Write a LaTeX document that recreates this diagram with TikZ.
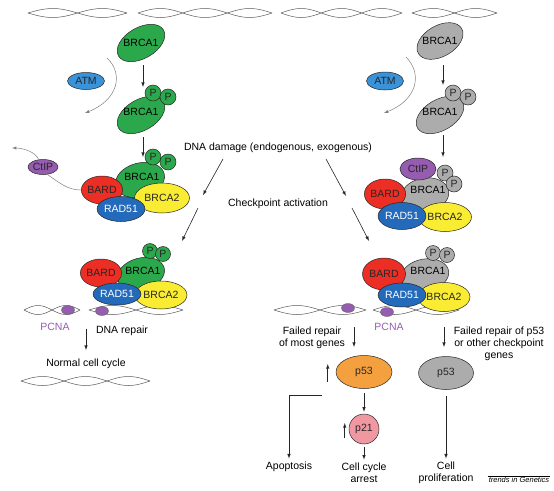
\documentclass[tikz,border=0pt]{standalone}
\usepackage{fontspec}
\setmainfont{Liberation Sans}
\usetikzlibrary{shapes.geometric}
\definecolor{brgreen}{RGB}{44,168,76}
\definecolor{brgray}{RGB}{172,172,172}
\definecolor{brred}{RGB}{236,46,36}
\definecolor{radblue}{RGB}{36,106,186}
\definecolor{atmblue}{RGB}{58,146,216}
\definecolor{bryellow}{RGB}{250,236,50}
\definecolor{pcnapurple}{RGB}{150,92,176}
\definecolor{p53orange}{RGB}{245,160,62}
\definecolor{p21pink}{RGB}{240,152,162}
% one stretch of double helix: from, to, height, loops
\newcommand{\dnahelix}[4]{%
  \draw[helix] plot[domain=#1:#2,samples=80,smooth] (\x,{#3+4.5*sin(((\x-#1)/(#2-#1))*180*#4)});
  \draw[helix] plot[domain=#1:#2,samples=80,smooth] (\x,{#3-4.5*sin(((\x-#1)/(#2-#1))*180*#4)});}
\begin{document}
\begin{tikzpicture}[x=1pt,y=-1pt,>=latex,font=\fontsize{10.5}{12}\selectfont]
  \tikzset{mol/.style={ellipse,draw=black!85,line width=0.5pt,inner sep=0pt,text=black!85},
    phos/.style={circle,draw=black!85,line width=0.5pt,inner sep=0pt,minimum size=16pt,text=black!85},
    helix/.style={draw=black!65,line width=0.5pt},
    link/.style={draw=black!50,line width=0.5pt},
    arr/.style={->,draw=black!85,line width=0.6pt},
    pcna/.style={ellipse,fill=pcnapurple,draw=black!60,line width=0.4pt,minimum width=13pt,minimum height=9pt,inner sep=0pt}}
  \useasboundingbox (0,0) rectangle (554,490);

  % DNA
  \dnahelix{28}{127}{13}{2}
  \dnahelix{138}{272}{13}{3}
  \dnahelix{281}{402}{13}{3}
  \dnahelix{412}{497}{13}{2}
  \dnahelix{24}{80}{310}{2}
  \dnahelix{89}{183}{310}{2}
  \dnahelix{274}{366}{310}{2}
  \dnahelix{373}{459}{310}{2}
  \dnahelix{21}{150}{381}{3}

  % left: BRCA1 activation
  \node[mol,fill=brgreen,minimum width=52pt,minimum height=31pt,rotate=30] (brL) at (141,43) {};
  \node (brLt) at (brL) {BRCA1};
  \node[mol,fill=atmblue,minimum width=37pt,minimum height=17pt] (atmL) at (86,81) {ATM};
  \coordinate (atmLa) at (107,58);
  \coordinate (atmLb) at (85,113);
  \draw[link,->] (atmLa) .. controls (124,74) and (118,100) .. (atmLb);
  \node[mol,fill=brgreen,minimum width=52pt,minimum height=31pt,rotate=30] (brpL) at (141,115) {};
  \node (brpLt) at (141,112) {BRCA1};
  \node[phos,fill=brgreen] (pL1) at (153,93) {P};
  \node[phos,fill=brgreen] (pL2) at (168,97) {P};
  \draw[arr] (brL.center) ++(2,22) -- ++(0,22);
  \draw[arr] (brpL.center) ++(2,22) -- ++(0,20);

  % left: repair complex
  \node[mol,fill=brgreen,minimum width=50pt,minimum height=34pt,rotate=15] (brcL) at (140,180) {};
  \node (brcLt) at (142,177) {BRCA1};
  \node[phos,fill=brgreen] (pcL1) at (153,157) {P};
  \node[phos,fill=brgreen] (pcL2) at (168,162) {P};
  \node[mol,fill=brred,minimum width=40pt,minimum height=28pt] (bardL) at (102,190) {BARD};
  \node[mol,fill=bryellow,minimum width=55pt,minimum height=30pt] (brca2L) at (162,198) {BRCA2};
  \node[mol,fill=radblue,text=white,minimum width=42pt,minimum height=25pt] (radL) at (121,209) {RAD51};
  \node[mol,fill=pcnapurple,minimum width=30pt,minimum height=15pt] (ctipL) at (43,167) {CtIP};
  \coordinate (ctipOut) at (12,148);
  \draw[link] (bardL.west) .. controls +(-14,0) and +(12,8) .. (ctipL.-60);
  \draw[link,->] (ctipL.120) .. controls +(-3,-8) and +(10,0) .. (ctipOut);

  % damage and checkpoint
  \node (dmg) at (278,148) {DNA damage (endogenous, exogenous)};
  \node (chk) at (278,204) {Checkpoint activation};
  \draw[arr] (dmg) ++(-55,11) -- ++(-20,36);
  \draw[arr] (chk) ++(-80,4) -- ++(-16,33);
  \draw[arr] (dmg) ++(48,11) -- ++(20,37);
  \draw[arr] (chk) ++(74,4) -- ++(17,33);

  % left: complex on DNA
  \node[mol,fill=brgreen,minimum width=48pt,minimum height=32pt,rotate=15] (brrL) at (141,274) {};
  \node (brrLt) at (143,271) {BRCA1};
  \node[phos,fill=brgreen,minimum size=15pt] (prL1) at (150,251) {P};
  \node[phos,fill=brgreen,minimum size=15pt] (prL2) at (163,254) {P};
  \node[mol,fill=brred,minimum width=41pt,minimum height=28pt] (bardrL) at (101,273) {BARD};
  \node[mol,fill=bryellow,minimum width=52pt,minimum height=28pt] (brca2rL) at (161,295) {BRCA2};
  \node[mol,fill=radblue,text=white,minimum width=42pt,minimum height=22pt] (radrL) at (117,294) {RAD51};
  \node[pcna] (pcnaL1) at (68,310) {};
  \node[pcna] (pcnaL2) at (102,311) {};
  \node[text=pcnapurple] (pcnaLt) at (55,327) {PCNA};
  \node (repair) at (122,331) {DNA repair};
  \node (normal) at (86,364) {Normal cell cycle};
  \draw[arr] (normal) ++(0,-35) -- ++(0,21);

  % right: BRCA1 activation
  \node[mol,fill=brgray,minimum width=50pt,minimum height=31pt,rotate=30] (brR) at (440,41) {};
  \node (brRt) at (brR) {BRCA1};
  \node[mol,fill=atmblue,minimum width=37pt,minimum height=18pt] (atmR) at (385,81) {ATM};
  \coordinate (atmRa) at (406,57);
  \coordinate (atmRb) at (384,113);
  \draw[link,->] (atmRa) .. controls (423,74) and (417,100) .. (atmRb);
  \node[mol,fill=brgray,minimum width=52pt,minimum height=31pt,rotate=30] (brpR) at (440,115) {};
  \node (brpRt) at (440,112) {BRCA1};
  \node[phos,fill=brgray] (pR1) at (453,93) {P};
  \node[phos,fill=brgray] (pR2) at (468,97) {P};
  \draw[arr] (brR.center) ++(3,24) -- ++(0,20);
  \draw[arr] (brpR.center) ++(3,20) -- ++(0,22);

  % right: repair complex
  \node[mol,fill=brgray,minimum width=48pt,minimum height=34pt,rotate=10] (brcR) at (425,195) {};
  \node (brcRt) at (428,190) {BRCA1};
  \node[phos,fill=brgray] (pcR1) at (445,173) {P};
  \node[phos,fill=brgray] (pcR2) at (454,184) {P};
  \node[mol,fill=pcnapurple,minimum width=36pt,minimum height=22pt] (ctipR) at (418,169) {CtIP};
  \node[mol,fill=brred,minimum width=41pt,minimum height=30pt] (bardR) at (385,194) {BARD};
  \node[mol,fill=bryellow,minimum width=53pt,minimum height=29pt] (brca2R) at (445,217) {BRCA2};
  \node[mol,fill=radblue,text=white,minimum width=43pt,minimum height=27pt] (radR) at (402,216) {RAD51};

  % right: complex on DNA
  \node[mol,fill=brgray,minimum width=48pt,minimum height=32pt,rotate=10] (brrR) at (425,275) {};
  \node (brrRt) at (428,271) {BRCA1};
  \node[phos,fill=brgray,minimum size=15pt] (prR1) at (433,253) {P};
  \node[phos,fill=brgray,minimum size=15pt] (prR2) at (447,255) {P};
  \node[mol,fill=brred,minimum width=43pt,minimum height=32pt] (bardrR) at (384,274) {BARD};
  \node[mol,fill=bryellow,minimum width=52pt,minimum height=29pt] (brca2rR) at (444,297) {BRCA2};
  \node[mol,fill=radblue,text=white,minimum width=43pt,minimum height=24pt] (radrR) at (402,295) {RAD51};
  \node[pcna] (pcnaR1) at (348,308) {};
  \node[pcna] (pcnaR2) at (387,312) {};
  \node[text=pcnapurple] (pcnaRt) at (389,327) {PCNA};

  % right: outcomes
  \node[align=center] (failA) at (312,338) {Failed repair\\of most genes};
  \node[align=center] (failB) at (499,344) {Failed repair of p53\\or other checkpoint\\genes};
  \draw[arr] (failA) ++(42,-11) -- ++(0,20);
  \draw[arr] (failB) ++(-55,-17) -- ++(0,20);
  \node[mol,fill=p53orange,minimum width=56pt,minimum height=33pt] (p53a) at (364,372) {p53};
  \node[mol,fill=brgray,minimum width=55pt,minimum height=33pt] (p53b) at (446,373) {p53};
  \node[mol,fill=p21pink,minimum width=30pt,minimum height=30pt] (p21) at (364,429) {p21};
  \node (apop) at (289,467) {Apoptosis};
  \node[align=center] (arrest) at (364,473) {Cell cycle\\arrest};
  \node[align=center] (prolif) at (446,473) {Cell\\proliferation};
  \draw[arr] (p53a) ++(-42,23) -| (apop);
  \draw[arr,shorten <=4pt,shorten >=2pt] (p53a) -- (p21);
  \draw[arr,shorten <=3pt] (p21) -- (arrest);
  \draw[arr,shorten <=6pt] (p53b) -- (prolif);
  \draw[arr] (p53a.west) ++(-8,10) -- ++(0,-18);
  \draw[arr] (p21.west) ++(-4,9) -- ++(0,-15);

  \node[font=\fontsize{7.5}{8}\selectfont\itshape,minimum width=59pt,inner sep=1pt] (tig) at (519,480) {trends in Genetics};
  \draw[line width=0.4pt] (tig.north west) -- (tig.north east);
\end{tikzpicture}
\end{document}
